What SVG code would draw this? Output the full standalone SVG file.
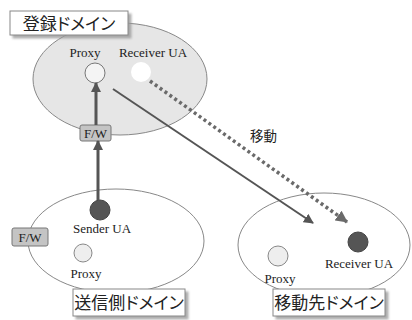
<svg xmlns="http://www.w3.org/2000/svg" width="412" height="320" viewBox="0 0 412 320">
<defs>
<marker id="ah" markerWidth="10" markerHeight="10" refX="9" refY="5" orient="auto" markerUnits="userSpaceOnUse">
<path d="M0,0 L10,5 L0,10 z" fill="#555"/>
</marker>
<marker id="ah2" markerWidth="12" markerHeight="12" refX="11" refY="6" orient="auto" markerUnits="userSpaceOnUse">
<path d="M0,0 L12,6 L0,12 z" fill="#6a6a6a"/>
</marker>
<filter id="sh" x="-10%" y="-10%" width="130%" height="150%">
<feDropShadow dx="3" dy="3" stdDeviation="1" flood-color="#999" flood-opacity="0.8"/>
</filter>
</defs>
<style>
.dom{stroke:#888;stroke-width:1}
.lbl{fill:#fff;stroke:#888;stroke-width:1}
.jp{font-family:"Noto Sans CJK JP","Noto Sans CJK SC",sans-serif;fill:#222;font-feature-settings:"palt"}
.en{font-family:"Liberation Serif",serif;font-size:13px;fill:#222}
.fw{fill:#c4c4c4;stroke:#777;stroke-width:1}
.dark{fill:#555;stroke:#444}
.light{fill:#eee;stroke:#888}
</style>
<rect width="412" height="320" fill="#fff"/>

<g id="reg-domain">
<ellipse class="dom" cx="120" cy="79" rx="87" ry="56" fill="#e6e6e6"/>
<rect class="lbl" x="10" y="11" width="118" height="24" filter="url(#sh)"/>
<text class="jp" x="69" y="29.5" font-size="17" text-anchor="middle">登録ドメイン</text>
<text class="en" x="85" y="57" text-anchor="middle">Proxy</text>
<text class="en" x="153" y="57" text-anchor="middle">Receiver UA</text>
</g>
<g id="reg-proxy"><circle cx="95" cy="73" r="10" fill="#f4f4f4" stroke="#777"/></g>
<g id="reg-receiver"><circle cx="141" cy="72" r="10" fill="#fff"/></g>
<g id="fw-top"><rect class="fw" x="80" y="125" width="31" height="16" rx="2"/><text class="en" x="95.5" y="137.5" text-anchor="middle">F/W</text></g>

<g id="send-domain">
<ellipse class="dom" cx="116" cy="241" rx="88" ry="52" fill="#fff"/>
<rect class="lbl" x="73" y="289" width="112" height="27" filter="url(#sh)"/>
<text class="jp" x="129" y="309" font-size="17" text-anchor="middle">送信側ドメイン</text>
<text class="en" x="102" y="233" text-anchor="middle">Sender UA</text>
<text class="en" x="86" y="278" text-anchor="middle">Proxy</text>
</g>
<g id="sender-ua"><circle class="dark" cx="100" cy="210" r="10"/></g>
<g id="send-proxy"><circle class="light" cx="83" cy="253" r="9"/></g>
<g id="fw-left"><rect class="fw" x="12" y="228" width="36" height="18" rx="2"/><text class="en" x="30" y="241.5" text-anchor="middle">F/W</text></g>

<g id="dest-domain">
<ellipse class="dom" cx="324" cy="245" rx="86" ry="52" fill="#fff"/>
<rect class="lbl" x="273" y="289" width="112" height="27" filter="url(#sh)"/>
<text class="jp" x="329" y="309" font-size="17" text-anchor="middle">移動先ドメイン</text>
<text class="en" x="359" y="268" text-anchor="middle">Receiver UA</text>
<text class="en" x="280" y="283" text-anchor="middle">Proxy</text>
</g>
<g id="dest-receiver"><circle class="dark" cx="358" cy="242" r="10"/></g>
<g id="dest-proxy"><circle class="light" cx="278" cy="256" r="10"/></g>

<g id="connectors">
<line x1="96" y1="125" x2="96" y2="83" stroke="#555" stroke-width="3" marker-end="url(#ah)"/>
<line x1="98" y1="200" x2="98" y2="141" stroke="#555" stroke-width="3" marker-end="url(#ah)"/>
<line x1="113" y1="89" x2="313" y2="223" stroke="#555" stroke-width="2" marker-end="url(#ah)"/>
<line x1="150" y1="81" x2="347" y2="222" stroke="#6a6a6a" stroke-width="3.5" stroke-dasharray="3,3" marker-end="url(#ah2)"/>
<text class="jp" x="250" y="141" font-size="13.5">移動</text>
</g>
</svg>
